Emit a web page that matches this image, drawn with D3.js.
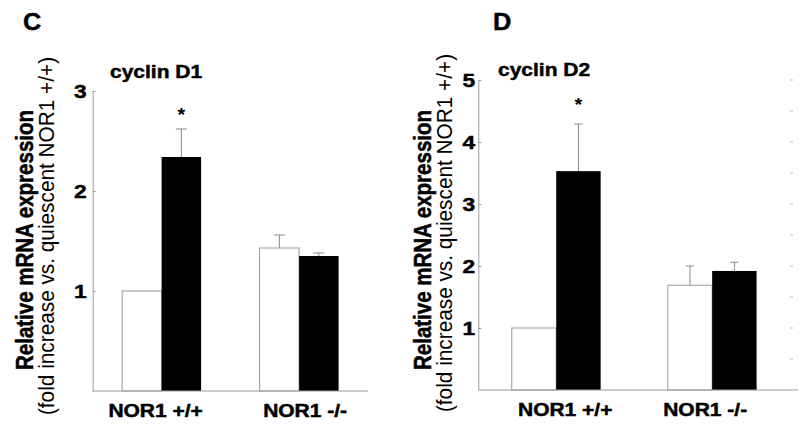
<!DOCTYPE html>
<html>
<head>
<meta charset="utf-8">
<script src="https://cdn.jsdelivr.net/npm/d3@7"></script>
<style>
  html, body { margin: 0; padding: 0; background: #fff; }
  svg { display: block; }
  text { font-family: "Liberation Sans", Arial, Helvetica, sans-serif; fill: #000; }
  text.heavy { stroke: #000; stroke-width: 0.45px; }
</style>
</head>
<body>
<svg id="chart" width="800" height="428"></svg>
<script>
// ---------- data ----------
const categories = ["NOR1 +/+", "NOR1 -/-"];
const seriesNames = ["quiescent", "stimulated"];

const d1Quiescent = [1.00, 1.43];
const d1Stimulated = [2.34, 1.35];
const d1QuiescentErr = [0, 0.13];
const d1StimulatedErr = [0.28, 0.03];
const d1Significant = [true, false];
const d1Ticks = [1, 2, 3];

const d2Quiescent = [1.00, 1.69];
const d2Stimulated = [3.53, 1.92];
const d2QuiescentErr = [0, 0.31];
const d2StimulatedErr = [0.76, 0.14];
const d2Significant = [true, false];
const d2Ticks = [1, 2, 3, 4, 5];
const d2RightTicks = [0.5, 1, 1.5, 2, 2.5, 3, 3.5, 4, 4.5, 5];

const yTitle1 = "Relative mRNA expression";
const yTitle2 = "(fold increase vs. quiescent NOR1 +/+)";

// ---------- drawing ----------
const svg = d3.select("#chart");
const SX = 1.2; // horizontal glyph stretch of the original figure
const AXIS = "#9a9a9a";

function panel(cfg) {
  const g = svg.append("g");
  const x = d3.scaleBand().domain(categories)
    .range([cfg.x0, cfg.x1]).paddingInner(cfg.pInner).paddingOuter(cfg.pOuter).align(cfg.align);
  const xs = d3.scaleBand().domain(seriesNames).range([0, x.bandwidth()]);
  const y = d3.scaleLinear().domain([0, cfg.ymax]).range([cfg.yBase, cfg.yTop]);

  // panel letter
  g.append("text").attr("class", "heavy").attr("transform", `translate(${cfg.letterX},30) scale(1.08,1)`)
    .attr("font-size", 23.5).attr("font-weight", "bold").text(cfg.letter);
  // title
  g.append("text").attr("class", "heavy").attr("transform", `translate(${cfg.titleX},${cfg.titleY}) scale(${SX},1)`)
    .attr("font-size", 17.5).attr("font-weight", "bold").text(cfg.title);

  // y titles
  g.append("text").attr("class", "heavy").attr("transform", `translate(${cfg.t1x},${cfg.t1y}) scale(1.15,1) rotate(-90)`)
    .attr("text-anchor", "middle").attr("font-size", 20.5).attr("font-weight", "bold").text(yTitle1);
  g.append("text").attr("transform", `translate(${cfg.t2x},${cfg.t2y}) scale(1.05,1) rotate(-90)`)
    .attr("text-anchor", "middle").attr("font-size", 20.8).text(yTitle2);

  const rows = categories.map((c, i) => ({
    cat: c, q: cfg.q[i], s: cfg.s[i], qe: cfg.qe[i], se: cfg.se[i], sig: cfg.sig[i]
  }));

  // white bars
  g.selectAll(".qbar").data(rows).enter().append("rect")
    .attr("x", d => x(d.cat) + xs("quiescent"))
    .attr("y", d => y(d.q))
    .attr("width", xs.bandwidth())
    .attr("height", d => y(0) - y(d.q))
    .attr("fill", "#fff").attr("stroke", AXIS).attr("stroke-width", 1);

  // error bars (one-sided, upward)
  const errs = [];
  rows.forEach(d => {
    if (d.qe > 0) errs.push({ cx: x(d.cat) + xs("quiescent") + xs.bandwidth() / 2, v: d.q, e: d.qe });
    if (d.se > 0) errs.push({ cx: x(d.cat) + xs("stimulated") + xs.bandwidth() / 2, v: d.s, e: d.se });
  });
  const eg = g.selectAll(".err").data(errs).enter().append("g");
  eg.append("line").attr("x1", d => d.cx).attr("x2", d => d.cx)
    .attr("y1", d => y(d.v)).attr("y2", d => y(d.v + d.e))
    .attr("stroke", "#8a8a8a").attr("stroke-width", 1);
  eg.append("line").attr("x1", d => d.cx - cfg.cap).attr("x2", d => d.cx + cfg.cap)
    .attr("y1", d => y(d.v + d.e)).attr("y2", d => y(d.v + d.e))
    .attr("stroke", "#8a8a8a").attr("stroke-width", 1);

  // black bars
  g.selectAll(".sbar").data(rows).enter().append("rect")
    .attr("x", d => x(d.cat) + xs("stimulated"))
    .attr("y", d => y(d.s))
    .attr("width", xs.bandwidth())
    .attr("height", d => y(0) - y(d.s))
    .attr("fill", "#000");

  // asterisks
  g.selectAll(".sig").data(rows.filter(d => d.sig)).enter().append("text")
    .attr("transform", d => `translate(${x(d.cat) + xs("stimulated") + xs.bandwidth() / 2},${y(d.s + d.se) - cfg.starGap}) scale(1.1,1)`)
    .attr("text-anchor", "middle").attr("font-size", 18).attr("font-weight", "bold").text("*");

  // y axis
  const ya = g.append("g").attr("transform", `translate(${cfg.x0},0)`)
    .call(d3.axisLeft(y).tickValues(cfg.ticks).tickSizeInner(-3).tickSizeOuter(0)
      .tickPadding(cfg.tickPad).tickFormat(d3.format("d")));
  ya.select(".domain").attr("stroke", AXIS);
  ya.selectAll(".tick line").attr("stroke", AXIS);
  ya.selectAll(".tick text")
    .attr("class", "heavy")
    .attr("font-family", null).attr("font-size", 19).attr("font-weight", "bold").attr("fill", "#000")
    .attr("transform", function () { return `translate(${d3.select(this).attr("x")},0) scale(${SX},1)`; })
    .attr("x", 0);

  // x axis
  const xa = g.append("g").attr("transform", `translate(0,${cfg.yBase})`)
    .call(d3.axisBottom(x).tickSize(0).tickSizeOuter(0).tickPadding(0));
  xa.select(".domain").remove();
  g.append("line").attr("x1", cfg.x0).attr("x2", cfg.xAxisEnd)
    .attr("y1", cfg.yBase).attr("y2", cfg.yBase).attr("stroke", AXIS);
  xa.selectAll(".tick text")
    .attr("class", "heavy")
    .attr("font-family", null).attr("font-size", 17.5).attr("font-weight", "bold").attr("fill", "#000")
    .attr("y", 0).attr("dy", 0)
    .attr("transform", (d, i) => `translate(${cfg.labelShift[i]},${cfg.labelDrop}) scale(${SX},1)`);

  return { g, y };
}

panel({
  letter: "C", letterX: 23, title: "cyclin D1", titleX: 110, titleY: 78,
  t1x: 33, t1y: 240, t2x: 54, t2y: 236,
  x0: 92.7, x1: 368, xAxisEnd: 368, pInner: 0.4255, pOuter: 0.214, align: 0.5,
  yBase: 391, yTop: 91, ymax: 3, ticks: d1Ticks, tickPad: 6,
  q: d1Quiescent, s: d1Stimulated, qe: d1QuiescentErr, se: d1StimulatedErr, sig: d1Significant,
  cap: 5.5, starGap: 8, labelShift: [-6, 6], labelDrop: 26
});

const pD = panel({
  letter: "D", letterX: 493, title: "cyclin D2", titleX: 498, titleY: 76,
  t1x: 431, t1y: 240, t2x: 452, t2y: 233,
  x0: 478.3, x1: 798, xAxisEnd: 798, pInner: 0.43, pOuter: 0.24, align: 0.447,
  yBase: 390, yTop: 80, ymax: 5, ticks: d2Ticks, tickPad: 3,
  q: d2Quiescent, s: d2Stimulated, qe: d2QuiescentErr, se: d2StimulatedErr, sig: d2Significant,
  cap: 4, starGap: 13, labelShift: [9, -7], labelDrop: 25.7
});

// faint tick marks at the right edge
pD.g.selectAll(".rt").data(d2RightTicks).enter().append("line")
  .attr("x1", 790).attr("x2", 793)
  .attr("y1", d => pD.y(d)).attr("y2", d => pD.y(d))
  .attr("stroke", "#b8b8b8").attr("stroke-width", 1);
</script>
</body>
</html>
